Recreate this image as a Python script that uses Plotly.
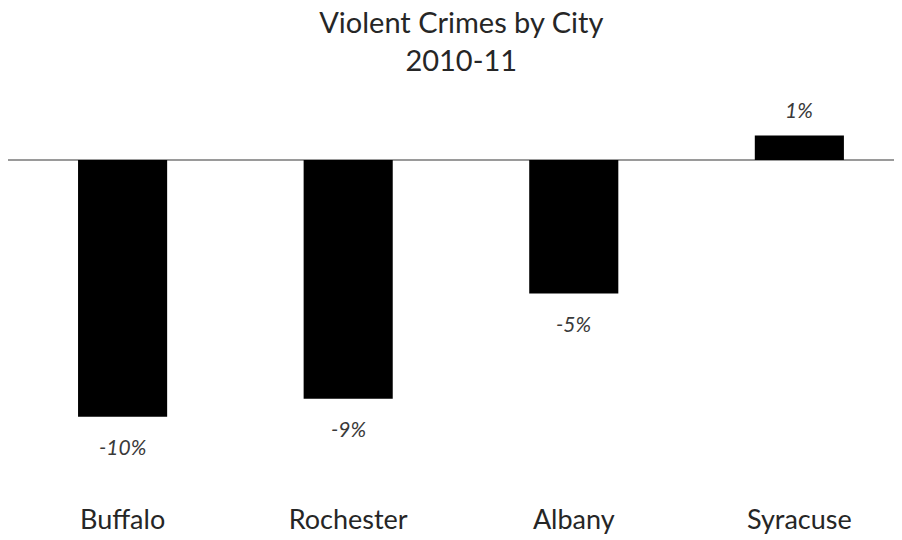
import plotly.graph_objects as go

cities = ["Buffalo", "Rochester", "Albany", "Syracuse"]
change_pct = [-10.0, -9.3, -5.2, 0.95]
value_labels = ["-10%", "-9%", "-5%", "1%"]
title_lines = ["Violent Crimes by City", "2010-11"]

FONT = "Lato"

fig = go.Figure()
fig.add_trace(go.Bar(
    x=cities, y=change_pct,
    marker=dict(color="#000000", line=dict(width=0)),
    width=0.395,
    hoverinfo="skip",
))

for c, v, t in zip(cities, change_pct, value_labels):
    fig.add_annotation(
        x=c, y=v, text=f"<i>{t}</i>", showarrow=False,
        yshift=(26 if v >= 0 else -30),
        font=dict(family=FONT, size=21, color="#3a3a3a"),
    )

# page body has an 8px margin, so the figure is 8px smaller and shifted
fig.update_layout(
    width=894, height=532,
    margin=dict(l=0, r=0, t=92, b=39, autoexpand=False),
    paper_bgcolor="white", plot_bgcolor="white",
    showlegend=False,
    title=dict(
        text="<br>".join(title_lines),
        x=0.507, xref="paper", xanchor="center",
        y=1 - 25 / 532, yref="container", yanchor="top",
        font=dict(family=FONT, size=29, color="#262626"),
    ),
    xaxis=dict(
        range=[-0.508, 3.455], automargin=False,
        showgrid=False, showline=False, zeroline=False, ticks="",
        tickfont=dict(family=FONT, size=27, color="#262626"),
    ),
    yaxis=dict(
        range=[-13.28, 2.337], automargin=False,
        showgrid=False, showline=False, showticklabels=False, ticks="",
        zeroline=True, zerolinecolor="#9a9a9a", zerolinewidth=2,
    ),
)

fig.write_html("out.html")
